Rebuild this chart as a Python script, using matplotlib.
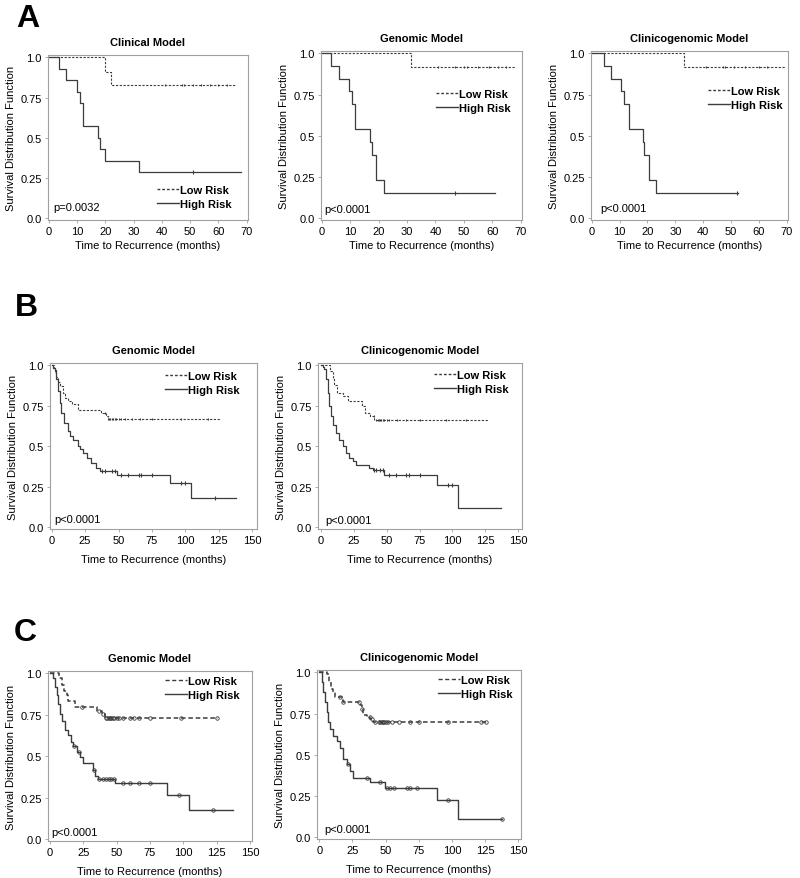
import matplotlib
matplotlib.use("Agg")
import matplotlib.pyplot as plt
from matplotlib.lines import Line2D
import numpy as np

plt.rcParams['font.family'] = ['Liberation Sans', 'DejaVu Sans']

# ---------------- data ----------------
# Panel A : Clinical model
a1_low_t = [19.8, 22.1]
a1_low_s = [0.91, 0.83]
a1_low_end = 66
a1_low_cens = [41, 47, 48, 51, 54, 57, 60, 63]
a1_high_t = [3.5, 6.1, 10.0, 10.9, 12.1, 17.3, 18.0, 19.8, 31.8]
a1_high_s = [0.929, 0.857, 0.786, 0.714, 0.571, 0.5, 0.429, 0.357, 0.286]
a1_high_end = 68
a1_high_cens = [51]
a1_p = "p=0.0032"

# Panel A : Genomic model
a2_low_t = [31.4]
a2_low_s = [0.92]
a2_low_end = 68
a2_low_cens = [41, 47, 50, 51, 55, 59, 62, 65]
a2_high_t = [3.3, 5.9, 9.6, 10.6, 11.8, 16.9, 17.5, 19.2, 21.8]
a2_high_s = [0.923, 0.846, 0.769, 0.692, 0.538, 0.462, 0.385, 0.231, 0.154]
a2_high_end = 61
a2_high_cens = [47]
a2_p = "p<0.0001"

# Panel A : Clinicogenomic model
a3_low_t = [33.1]
a3_low_s = [0.92]
a3_low_end = 69.5
a3_low_cens = [41, 47, 48, 51, 55, 60, 63]
a3_high_t = [4.2, 6.9, 10.5, 11.7, 13.2, 18.3, 18.9, 20.6, 23.1]
a3_high_s = [0.923, 0.846, 0.769, 0.692, 0.538, 0.462, 0.385, 0.231, 0.154]
a3_high_end = 52.5
a3_high_cens = [52]
a3_p = "p<0.0001"

# Panel B : Genomic model
b1_low_t = [1.5, 2.7, 3.5, 4.7, 6.0, 8.4, 10.0, 12.0, 15.0, 19.5, 36.8, 40.6, 41.8]
b1_low_s = [0.985, 0.955, 0.93, 0.90, 0.87, 0.83, 0.80, 0.78, 0.76, 0.727, 0.706, 0.685, 0.671]
b1_low_end = 126
b1_low_cens = [40, 42, 43, 44, 45, 46, 47, 48, 50, 52, 55, 60, 66, 75, 97, 117]
b1_high_t = [1.0, 2.2, 3.5, 4.7, 6.0, 7.2, 9.2, 12.2, 14.0, 16.0, 19.5, 21.0, 23.3, 26.5,
             29.5, 33.3, 35.8, 49.0, 88.3, 104.0]
b1_high_s = [0.985, 0.97, 0.913, 0.84, 0.768, 0.706, 0.644, 0.592, 0.565, 0.54, 0.50, 0.48,
             0.457, 0.427, 0.395, 0.363, 0.345, 0.325, 0.275, 0.18]
b1_high_end = 137.7
b1_high_cens = [38, 40, 45, 47, 52, 57, 65, 67, 75, 97, 100, 122]
b1_p = "p<0.0001"

# Panel B : Clinicogenomic model
b2_low_t = [6.9, 8.9, 10.1, 12.0, 17.0, 20.8, 31.0, 33.5, 37.3, 40.4]
b2_low_s = [0.965, 0.913, 0.876, 0.83, 0.81, 0.78, 0.747, 0.706, 0.685, 0.665]
b2_low_end = 127
b2_low_cens = [40, 42, 43, 44, 45, 46, 47, 48, 50, 52, 58, 65, 75, 95, 110]
b2_high_t = [1.5, 2.5, 3.8, 5.0, 6.3, 7.6, 9.4, 11.5, 14.0, 16.5, 19.0, 21.6, 24.0, 26.7,
             36.8, 39.4, 48.0, 88.6, 104.0]
b2_high_s = [0.99, 0.975, 0.913, 0.83, 0.747, 0.685, 0.634, 0.582, 0.54, 0.50, 0.457, 0.427,
             0.406, 0.385, 0.365, 0.354, 0.325, 0.26, 0.12]
b2_high_end = 137
b2_high_cens = [40, 42, 45, 47, 52, 57, 65, 67, 75, 97, 100]
b2_p = "p<0.0001"

# Panel C : Genomic model
c1_low_t = [7.0, 8.75, 10.5, 12.5, 13.75, 18.75, 35.0, 38.75, 41.25]
c1_low_s = [0.97, 0.928, 0.897, 0.867, 0.836, 0.795, 0.774, 0.754, 0.733]
c1_low_end = 126
c1_low_cens = [24, 37, 40, 42, 43, 44, 45, 46, 47, 48, 50, 52, 55, 60, 63, 67, 75, 98, 125]
c1_high_t = [2.5, 3.75, 5.0, 6.25, 7.5, 8.75, 11.25, 13.75, 15.5, 17.5, 20.0, 22.5, 25.0,
             32.5, 33.75, 36.25, 48.75, 88.0, 104.5]
c1_high_s = [0.97, 0.918, 0.867, 0.815, 0.754, 0.713, 0.661, 0.63, 0.589, 0.559, 0.528,
             0.497, 0.46, 0.415, 0.378, 0.36, 0.337, 0.265, 0.175]
c1_high_end = 137.5
c1_high_cens = [18, 22, 33, 37, 40, 42, 44, 46, 48, 55, 60, 67, 75, 97, 122]
c1_p = "p<0.0001"

# Panel C : Clinicogenomic model
c2_low_t = [5.5, 7.3, 8.8, 10.5, 11.8, 18.0, 30.7, 32.0, 33.0, 35.7, 38.2, 40.7]
c2_low_s = [0.99, 0.945, 0.90, 0.88, 0.85, 0.82, 0.80, 0.78, 0.74, 0.73, 0.72, 0.698]
c2_low_end = 126
c2_low_cens = [16, 18, 30, 32, 38, 40, 42, 45, 46, 47, 48, 49, 50, 52, 55, 60, 68, 75, 97, 122, 126]
c2_high_t = [1.8, 3.0, 4.3, 5.5, 6.8, 8.0, 10.5, 13.0, 15.6, 18.0, 20.6, 23.0, 25.6,
             38.2, 49.5, 89.0, 104.8]
c2_high_s = [0.945, 0.88, 0.82, 0.76, 0.698, 0.657, 0.616, 0.585, 0.544, 0.472, 0.441,
             0.40, 0.359, 0.333, 0.30, 0.226, 0.109]
c2_high_end = 138
c2_high_cens = [22, 36, 46, 51, 53, 56, 66, 68, 74, 97, 138]
c2_p = "p<0.0001"

titles = ["Clinical Model", "Genomic Model", "Clinicogenomic Model",
          "Genomic Model", "Clinicogenomic Model",
          "Genomic Model", "Clinicogenomic Model"]
legend_labels = ["Low Risk", "High Risk"]
xlabel = "Time to Recurrence (months)"
ylabel = "Survival Distribution Function"
yticks = [0.0, 0.25, 0.5, 0.75, 1.0]
ytick_labels = ["0.0", "0.25", "0.5", "0.75", "1.0"]
xticks_a = [0, 10, 20, 30, 40, 50, 60, 70]
xticks_bc = [0, 25, 50, 75, 100, 125, 150]
panel_letters = ["A", "B", "C"]

# ---------------- layout ----------------
W, H = 800, 879
fig = plt.figure(figsize=(W / 100, H / 100), dpi=100)

def box(l, r, t, b):
    return [l / W, 1 - b / H, (r - l) / W, (b - t) / H]

LINE = '#3c3c3c'
FRAME = '#a0a0a0'

def km(ax, t, s, end, cens, ls, lw, marker, msize):
    x = [0] + list(t) + [end]
    y = [1.0] + list(s) + [s[-1]]
    ax.step(x, y, where='post', color=LINE, lw=lw, linestyle=ls)
    tt = np.array([0] + list(t))
    ss = np.array([1.0] + list(s))
    cy = [ss[np.searchsorted(tt, c, side='right') - 1] for c in cens]
    if marker == 'o':
        ax.plot(cens, cy, linestyle='none', marker='o', ms=msize, mfc='none',
                mec=LINE, mew=0.6)
    else:
        ax.plot(cens, cy, linestyle='none', marker='|', ms=msize, mec=LINE, mew=0.8)

def setup(ax, title, xticks, xlim, p, p_xy, leg_xy, ls_low, xlab_pad):
    ax.set_xlim(*xlim)
    ax.set_ylim(-0.012, 1.015)
    ax.set_xticks(xticks)
    ax.set_yticks(yticks)
    ax.set_yticklabels(ytick_labels)
    for sp in ax.spines.values():
        sp.set_color(FRAME)
        sp.set_linewidth(0.8)
    ax.tick_params(length=2.5, width=0.6, color=FRAME, labelsize=8, pad=2)
    ax.set_title(title, fontsize=8, fontweight='bold', pad=7)
    ax.set_xlabel(xlabel, fontsize=8, labelpad=xlab_pad)
    ax.set_ylabel(ylabel, fontsize=8, labelpad=3)
    ax.text(p_xy[0], p_xy[1], p, transform=ax.transAxes, fontsize=8,
            ha='left', va='center')
    handles = [Line2D([], [], color=LINE, lw=1.0, linestyle=ls_low),
               Line2D([], [], color=LINE, lw=1.0, linestyle='-')]
    ax.legend(handles, legend_labels, loc='upper right', bbox_to_anchor=leg_xy,
              frameon=False, borderpad=0, borderaxespad=0, handlelength=2.0,
              handletextpad=0.1, labelspacing=0.35,
              prop={'weight': 'bold', 'size': 8})

dash_ab = (0, (2.0, 1.4))
dash_c = (0, (3.0, 1.8))

# Panel A
axA1 = fig.add_axes(box(48, 248, 56, 221))
km(axA1, a1_low_t, a1_low_s, a1_low_end, a1_low_cens, dash_ab, 0.8, '|', 2)
km(axA1, a1_high_t, a1_high_s, a1_high_end, a1_high_cens, '-', 0.9, '|', 2.5)
setup(axA1, titles[0], xticks_a, (-0.3, 70.5), a1_p, (0.025, 0.079), (0.92, 0.21), dash_ab, 3)

axA2 = fig.add_axes(box(321, 522, 52, 221))
km(axA2, a2_low_t, a2_low_s, a2_low_end, a2_low_cens, dash_ab, 0.8, '|', 2)
km(axA2, a2_high_t, a2_high_s, a2_high_end, a2_high_cens, '-', 0.9, '|', 2.5)
setup(axA2, titles[1], xticks_a, (-0.3, 70.5), a2_p, (0.016, 0.065), (0.945, 0.775), dash_ab, 3)

axA3 = fig.add_axes(box(591, 788, 52, 221))
km(axA3, a3_low_t, a3_low_s, a3_low_end, a3_low_cens, dash_ab, 0.8, '|', 2)
km(axA3, a3_high_t, a3_high_s, a3_high_end, a3_high_cens, '-', 0.9, '|', 2.5)
setup(axA3, titles[2], xticks_a, (-0.3, 70.5), a3_p, (0.046, 0.069), (0.975, 0.793), dash_ab, 3)

# Panel B
axB1 = fig.add_axes(box(50, 257, 364, 530))
km(axB1, b1_low_t, b1_low_s, b1_low_end, b1_low_cens, dash_ab, 0.8, '|', 2)
km(axB1, b1_high_t, b1_high_s, b1_high_end, b1_high_cens, '-', 0.9, '|', 2.5)
setup(axB1, titles[3], xticks_bc, (-1.3, 153.7), b1_p, (0.02, 0.06), (0.918, 0.952), dash_ab, 6)

axB2 = fig.add_axes(box(318, 522, 364, 530))
km(axB2, b2_low_t, b2_low_s, b2_low_end, b2_low_cens, dash_ab, 0.8, '|', 2)
km(axB2, b2_high_t, b2_high_s, b2_high_end, b2_high_cens, '-', 0.9, '|', 2.5)
setup(axB2, titles[4], xticks_bc, (-2.3, 153.0), b2_p, (0.034, 0.054), (0.936, 0.958), dash_ab, 6)

# Panel C
axC1 = fig.add_axes(box(48, 252, 672, 842))
km(axC1, c1_low_t, c1_low_s, c1_low_end, c1_low_cens, dash_c, 1.1, 'o', 2.5)
km(axC1, c1_high_t, c1_high_s, c1_high_end, c1_high_cens, '-', 1.0, 'o', 2.5)
setup(axC1, titles[5], xticks_bc, (-1.5, 151.5), c1_p, (0.018, 0.051), (0.94, 0.97), dash_c, 6)

axC2 = fig.add_axes(box(317, 521, 671, 840))
km(axC2, c2_low_t, c2_low_s, c2_low_end, c2_low_cens, dash_c, 1.1, 'o', 2.5)
km(axC2, c2_high_t, c2_high_s, c2_high_end, c2_high_cens, '-', 1.0, 'o', 2.5)
setup(axC2, titles[6], xticks_bc, (-1.7, 152.0), c2_p, (0.036, 0.059), (0.961, 0.97), dash_c, 6)

# Panel letters
for letter, (lx, ly) in zip(panel_letters, [(16, 19), (15, 308), (14, 633)]):
    fig.text(lx / W, 1 - ly / H, letter, fontsize=23, fontweight='bold',
             ha='left', va='center')

fig.savefig("out.png", dpi=100, facecolor='white')
